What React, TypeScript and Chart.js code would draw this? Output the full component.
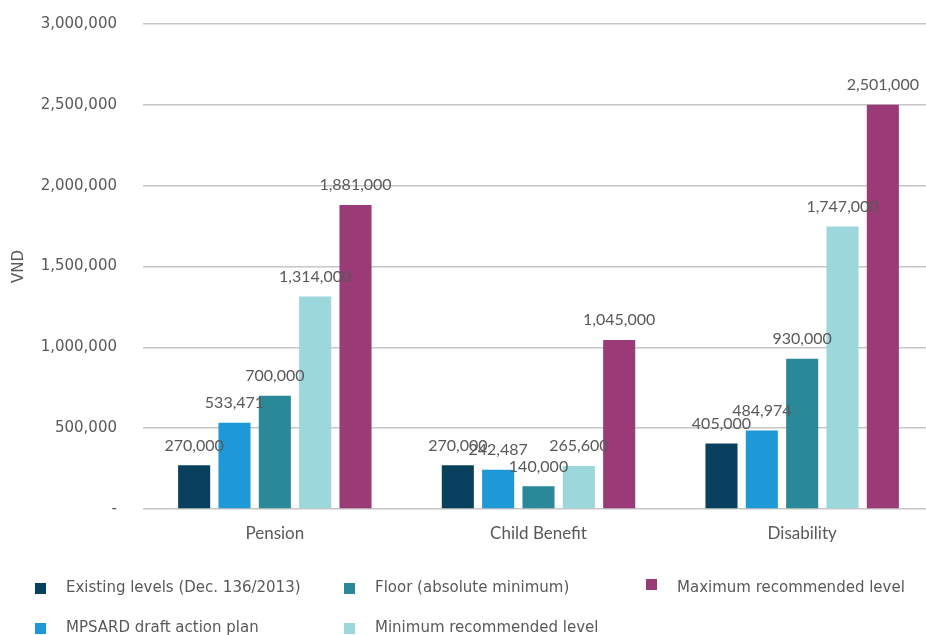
import React, { useEffect, useRef } from "react";
import { Chart, registerables } from "chart.js";

Chart.register(...registerables);

const categories = ["Pension", "Child Benefit", "Disability"];
const existingLevels = [270000, 270000, 405000];
const mpsardPlan = [533471, 242487, 484974];
const floorLevels = [700000, 140000, 930000];
const minimumRecommended = [1314000, 265600, 1747000];
const maximumRecommended = [1881000, 1045000, 2501000];
const seriesNames = [
  "Existing levels (Dec. 136/2013)",
  "MPSARD draft action plan",
  "Floor (absolute minimum)",
  "Minimum recommended level",
  "Maximum recommended level",
];
const seriesColors = ["#08405E", "#1E98D6", "#2A8999", "#9BD7DB", "#9A3B77"];
const yMax = 3000000;
const yStep = 500000;

const TEXT = "#595959";
const AXIS_FONT = "'DejaVu Sans', sans-serif";
const LABEL_FONT = "Lato, sans-serif";

const fmt = (v: number) => v.toLocaleString("en-US");

const dataLabels = {
  id: "dataLabels",
  afterDatasetsDraw(chart: any) {
    const ctx = chart.ctx;
    ctx.save();
    ctx.font = `16px ${LABEL_FONT}`;
    ctx.fillStyle = TEXT;
    ctx.textAlign = "center";
    ctx.textBaseline = "middle";
    chart.data.datasets.forEach((ds: any, i: number) => {
      const meta = chart.getDatasetMeta(i);
      meta.data.forEach((el: any, j: number) => {
        ctx.fillText(fmt(ds.data[j]), el.x, el.y - 20);
      });
    });
    ctx.restore();
  },
};

// legend: column-major grid, 3 columns x 2 rows
const legendCols = [35, 344, 646];
const legendRows = [588, 628];
const customLegend = {
  id: "customLegend",
  afterDraw(chart: any) {
    const ctx = chart.ctx;
    ctx.save();
    ctx.font = `15px ${AXIS_FONT}`;
    ctx.textBaseline = "middle";
    ctx.textAlign = "left";
    seriesNames.forEach((name, i) => {
      const col = Math.floor(i / 2);
      const row = i % 2;
      const x = legendCols[col];
      const y = legendRows[row];
      ctx.fillStyle = seriesColors[i];
      const sy = i === 4 ? y - 9 : y - 5;
      ctx.fillRect(x, sy, 11, 11);
      ctx.fillStyle = TEXT;
      ctx.fillText(name, x + 31, y);
    });
    ctx.restore();
  },
};

export default function App() {
  const ref = useRef<HTMLCanvasElement | null>(null);
  useEffect(() => {
    if (!ref.current) return;
    const series = [existingLevels, mpsardPlan, floorLevels, minimumRecommended, maximumRecommended];
    const chart = new Chart(ref.current, {
      type: "bar",
      data: {
        labels: categories,
        datasets: series.map((d, i) => ({
          label: seriesNames[i],
          data: d,
          backgroundColor: seriesColors[i],
          categoryPercentage: 0.765,
          barPercentage: 0.795,
        })),
      },
      options: {
        animation: false,
        responsive: true,
        maintainAspectRatio: false,
        layout: { padding: { top: 24, right: 6, left: 0, bottom: 0 } },
        plugins: {
          legend: { display: false },
          tooltip: { enabled: false },
        },
        scales: {
          x: {
            grid: { display: false },
            border: { display: false },
            ticks: {
              color: TEXT,
              font: { family: LABEL_FONT, size: 17 },
              padding: 6,
            },
            afterFit(scale: any) {
              scale.height = 126;
            },
          },
          y: {
            min: 0,
            max: yMax,
            border: { display: false },
            grid: {
              color: "#C6C6C6",
              lineWidth: 1.5,
              drawTicks: true,
              tickLength: 23,
              tickColor: "rgba(0,0,0,0)",
            },
            ticks: {
              stepSize: yStep,
              color: TEXT,
              font: { family: AXIS_FONT, size: 15 },
              padding: 3,
              callback: (v: any) => (v === 0 ? "-" : fmt(Number(v))),
            },
            title: {
              display: true,
              text: "VND",
              color: TEXT,
              font: { family: AXIS_FONT, size: 15 },
              padding: { top: 10, bottom: 0 },
            },
            afterFit(scale: any) {
              scale.width = 143;
            },
          },
        },
      },
      plugins: [dataLabels, customLegend],
    });
    return () => chart.destroy();
  }, []);

  return (
    <div style={{ position: "absolute", left: 0, top: 0, width: 926, height: 635, overflow: "hidden", background: "#fff" }}>
      <div style={{ position: "relative", width: 940, height: 635 }}>
        <canvas ref={ref} />
      </div>
    </div>
  );
}
